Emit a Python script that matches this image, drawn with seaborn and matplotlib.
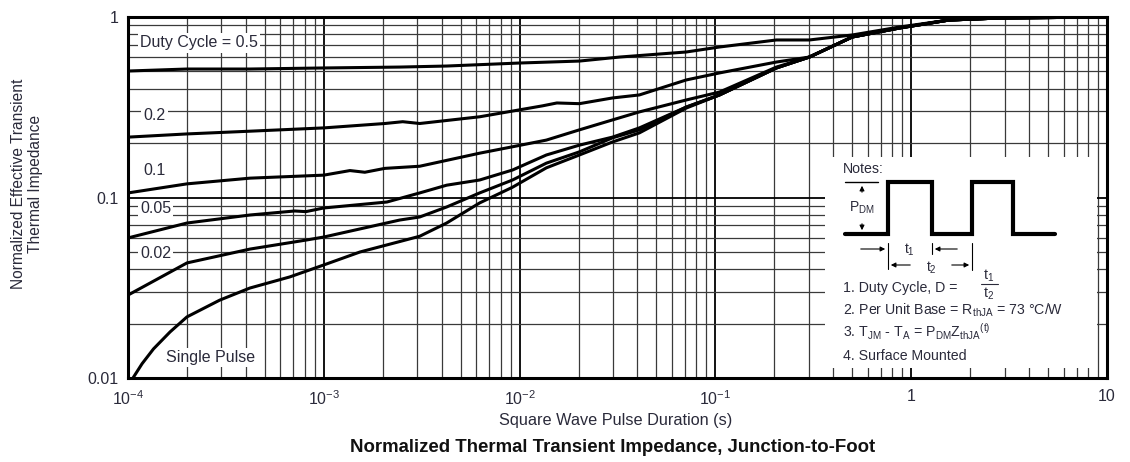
import numpy as np
import pandas as pd
import matplotlib
matplotlib.use("Agg")
import matplotlib.pyplot as plt
import seaborn as sns
from matplotlib.ticker import LogLocator, NullFormatter

# ---------------- data ----------------
series_names = ["0.5", "0.2", "0.1", "0.05", "0.02", "Single Pulse"]

t_d05 = [1e-4, 2e-4, 4.2e-4, 1e-3, 2.44e-3, 4.24e-3, 1e-2, 2.02e-2, 3.24e-2, 7.1e-2,
         0.105, 0.205, 0.302, 0.50, 0.87, 1.56, 2.8, 10]
z_d05 = [0.502, 0.515, 0.515, 0.522, 0.528, 0.535, 0.556, 0.570, 0.600, 0.640,
         0.682, 0.746, 0.746, 0.795, 0.880, 0.962, 0.987, 1.0]

t_d02 = [1e-4, 2e-4, 4.2e-4, 1e-3, 2.05e-3, 2.53e-3, 3.09e-3, 6.25e-3, 1e-2, 1.31e-2,
         1.55e-2, 2.02e-2, 2.98e-2, 4.09e-2, 7.1e-2, 0.105, 0.205, 0.302, 0.50, 0.87,
         1.56, 2.8, 10]
z_d02 = [0.216, 0.225, 0.233, 0.243, 0.257, 0.263, 0.257, 0.280, 0.306, 0.322,
         0.334, 0.331, 0.356, 0.370, 0.448, 0.490, 0.563, 0.600, 0.775, 0.869,
         0.962, 0.987, 1.0]

t_d01 = [1e-4, 2e-4, 4.2e-4, 1e-3, 1.36e-3, 1.62e-3, 2.05e-3, 3.09e-3, 6.25e-3, 9.2e-3,
         1.37e-2, 2.02e-2, 2.98e-2, 4.09e-2, 7.1e-2, 0.105, 0.205, 0.302, 0.50, 0.87,
         1.56, 2.8, 10]
z_d01 = [0.106, 0.119, 0.128, 0.133, 0.141, 0.138, 0.145, 0.149, 0.176, 0.191,
         0.208, 0.237, 0.269, 0.298, 0.347, 0.384, 0.528, 0.600, 0.775, 0.869,
         0.962, 0.987, 1.0]

t_d005 = [1e-4, 2e-4, 4.2e-4, 7.1e-4, 8.1e-4, 1e-3, 2.1e-3, 3.09e-3, 4.24e-3, 6.25e-3,
          9.2e-3, 1.37e-2, 2.02e-2, 2.98e-2, 4.09e-2, 7.1e-2, 0.105, 0.205, 0.302, 0.50,
          0.87, 1.56, 2.8, 10]
z_d005 = [0.0597, 0.0722, 0.080, 0.0842, 0.0835, 0.0875, 0.0944, 0.106, 0.117, 0.125,
          0.142, 0.172, 0.195, 0.216, 0.243, 0.317, 0.370, 0.522, 0.600, 0.775,
          0.869, 0.962, 0.987, 1.0]

t_d002 = [1e-4, 2e-4, 4.2e-4, 8.2e-4, 1e-3, 2.44e-3, 3.09e-3, 4.24e-3, 6.25e-3, 9.2e-3,
          1.37e-2, 2.02e-2, 2.98e-2, 4.09e-2, 7.1e-2, 0.105, 0.205, 0.302, 0.50, 0.87,
          1.56, 2.8, 10]
z_d002 = [0.0288, 0.0434, 0.0518, 0.0582, 0.0604, 0.075, 0.078, 0.0886, 0.106, 0.125,
          0.155, 0.179, 0.214, 0.237, 0.317, 0.370, 0.522, 0.600, 0.775, 0.869,
          0.962, 0.987, 1.0]

t_single = [1.06e-4, 1.18e-4, 1.35e-4, 1.64e-4, 2e-4, 2.94e-4, 4.19e-4, 6.7e-4, 1e-3, 1.53e-3,
            2.44e-3, 3.09e-3, 4.24e-3, 6.25e-3, 9.2e-3, 1.37e-2, 2.02e-2, 2.98e-2, 4.09e-2,
            7.1e-2, 0.105, 0.205, 0.302, 0.50, 0.87, 1.56, 2.8, 10]
z_single = [0.0100, 0.0120, 0.0145, 0.0180, 0.0218, 0.0270, 0.0315, 0.0363, 0.0423, 0.0499,
            0.057, 0.061, 0.0722, 0.0933, 0.114, 0.146, 0.172, 0.203, 0.228,
            0.313, 0.370, 0.522, 0.600, 0.775, 0.869, 0.962, 0.987, 1.0]

x_tick_values = [1e-4, 1e-3, 1e-2, 1e-1, 1, 10]
x_tick_labels = ["$10^{-4}$", "$10^{-3}$", "$10^{-2}$", "$10^{-1}$", "1", "10"]
y_tick_values = [0.01, 0.1, 1]
y_tick_labels = ["0.01", "0.1", "1"]

# ---------------- styling ----------------
sns.set_theme(style="white")
plt.rcParams["font.family"] = ["Liberation Sans", "DejaVu Sans"]
plt.rcParams["mathtext.default"] = "regular"
TXT = "#2a2a3a"

frames = []
for name, t, z in zip(series_names,
                      [t_d05, t_d02, t_d01, t_d005, t_d002, t_single],
                      [z_d05, z_d02, z_d01, z_d005, z_d002, z_single]):
    frames.append(pd.DataFrame({"t": t, "z": z, "series": name}))
df = pd.concat(frames, ignore_index=True)

fig = plt.figure(figsize=(11.3, 4.62), dpi=100)
ax = fig.add_axes([128 / 1130, 1 - 378 / 462, 979 / 1130, 361 / 462])

sns.lineplot(data=df, x="t", y="z", hue="series", palette=["black"] * 6,
             estimator=None, sort=False, legend=False, linewidth=2.2, ax=ax, zorder=3)

ax.set_xscale("log")
ax.set_yscale("log")
ax.set_xlim(1e-4, 10)
ax.set_ylim(0.01, 1)
ax.set_xticks(x_tick_values, x_tick_labels)
ax.set_yticks(y_tick_values, y_tick_labels)
ax.xaxis.set_minor_locator(LogLocator(base=10, subs=np.arange(2, 10)))
ax.yaxis.set_minor_locator(LogLocator(base=10, subs=np.arange(2, 10)))
ax.xaxis.set_minor_formatter(NullFormatter())
ax.yaxis.set_minor_formatter(NullFormatter())
ax.tick_params(which="both", length=0)
ax.tick_params(axis="x", pad=8, labelsize=11.5, labelcolor=TXT)
ax.tick_params(axis="y", pad=7, labelsize=11.5, labelcolor=TXT)
ax.grid(which="major", color="black", linewidth=1.3)
ax.grid(which="minor", color="#3a3a3a", linewidth=0.9)
ax.set_axisbelow(True)
ax.set_xlabel("")
ax.set_ylabel("")
for s in ax.spines.values():
    s.set_color("black")
    s.set_linewidth(2.2)
    s.set_visible(True)

# in-plot curve labels
lab_kw = dict(fontsize=11.5, color=TXT, va="center", ha="left", zorder=4,
              bbox=dict(facecolor="white", edgecolor="none", pad=1.5))
ax.text(1.15e-4, 0.718, "Duty Cycle = 0.5", **lab_kw)
ax.text(1.2e-4, 0.286, "0.2", **lab_kw)
ax.text(1.2e-4, 0.142, "0.1", **lab_kw)
ax.text(1.15e-4, 0.0866, "0.05", **lab_kw)
ax.text(1.15e-4, 0.049, "0.02", **lab_kw)
ax.text(1.56e-4, 0.0130, "Single Pulse", **lab_kw)

# axis titles
fig.text(27 / 1130, 1 - 184 / 462, "Normalized Effective Transient\nThermal Impedance",
         rotation=90, ha="center", va="center", fontsize=11.2, color=TXT, linespacing=1.2)
fig.text(616 / 1130, 1 - 420 / 462, "Square Wave Pulse Duration (s)",
         ha="center", va="center", fontsize=11.7, color=TXT)
fig.text(613 / 1130, 1 - 448 / 462, "Normalized Thermal Transient Impedance, Junction-to-Foot",
         ha="center", va="center", fontsize=13.4, fontweight="bold", color="#111")

# ---------------- notes box ----------------
nx = fig.add_axes([825 / 1130, 1 - 368 / 462, 272 / 1130, 211 / 462])
nx.set_xlim(0, 272)
nx.set_ylim(211, 0)
nx.set_facecolor("white")
nx.set_xticks([])
nx.set_yticks([])
for s in nx.spines.values():
    s.set_visible(False)

nx.plot([20, 63, 63, 107, 107, 147, 147, 188, 188, 230],
        [77, 77, 25, 25, 77, 77, 25, 25, 77, 77],
        color="black", linewidth=3, solid_joinstyle="miter")
nx.plot([20, 53], [25, 25], color="black", linewidth=1.0)
arr = dict(arrowstyle="-|>", color="black", lw=0.8, mutation_scale=7)
nx.annotate("", xy=(37, 26), xytext=(37, 38), arrowprops=arr)
nx.annotate("", xy=(37, 76), xytext=(37, 64), arrowprops=arr)
nx.text(37, 51, "$P_{DM}$", ha="center", va="center", fontsize=10, color=TXT)

# t1 / t2 dimensions
nx.plot([63, 63], [86, 112], color="black", linewidth=0.8)
nx.plot([107, 107], [86, 97], color="black", linewidth=0.8)
nx.plot([147, 147], [86, 113], color="black", linewidth=0.8)
nx.annotate("", xy=(63, 92), xytext=(33, 92), arrowprops=arr)
nx.annotate("", xy=(107, 92), xytext=(135, 92), arrowprops=arr)
nx.text(84, 93, "$t_1$", ha="center", va="center", fontsize=10, color=TXT)
nx.annotate("", xy=(63, 108), xytext=(88, 108), arrowprops=arr)
nx.annotate("", xy=(147, 108), xytext=(124, 108), arrowprops=arr)
nx.text(106, 111, "$t_2$", ha="center", va="center", fontsize=10, color=TXT)

note_kw = dict(ha="left", va="center", fontsize=10.2, color=TXT)
nx.text(18, 12, "Notes:", **note_kw)
nx.text(18, 131, "1. Duty Cycle, D = ", **note_kw)
nx.text(164, 119, "$t_1$", ha="center", va="center", fontsize=10.2, color=TXT)
nx.plot([156, 173], [127, 127], color=TXT, linewidth=0.8)
nx.text(164, 137, "$t_2$", ha="center", va="center", fontsize=10.2, color=TXT)
nx.text(18, 153, "2. Per Unit Base = R$_{thJA}$ = 73 °C/W", **note_kw)
nx.text(18, 175, "3. T$_{JM}$ - T$_A$ = P$_{DM}$Z$_{thJA}$$^{(t)}$", **note_kw)
nx.text(18, 199, "4. Surface Mounted", **note_kw)

fig.savefig("out.png", dpi=100, facecolor="white")
